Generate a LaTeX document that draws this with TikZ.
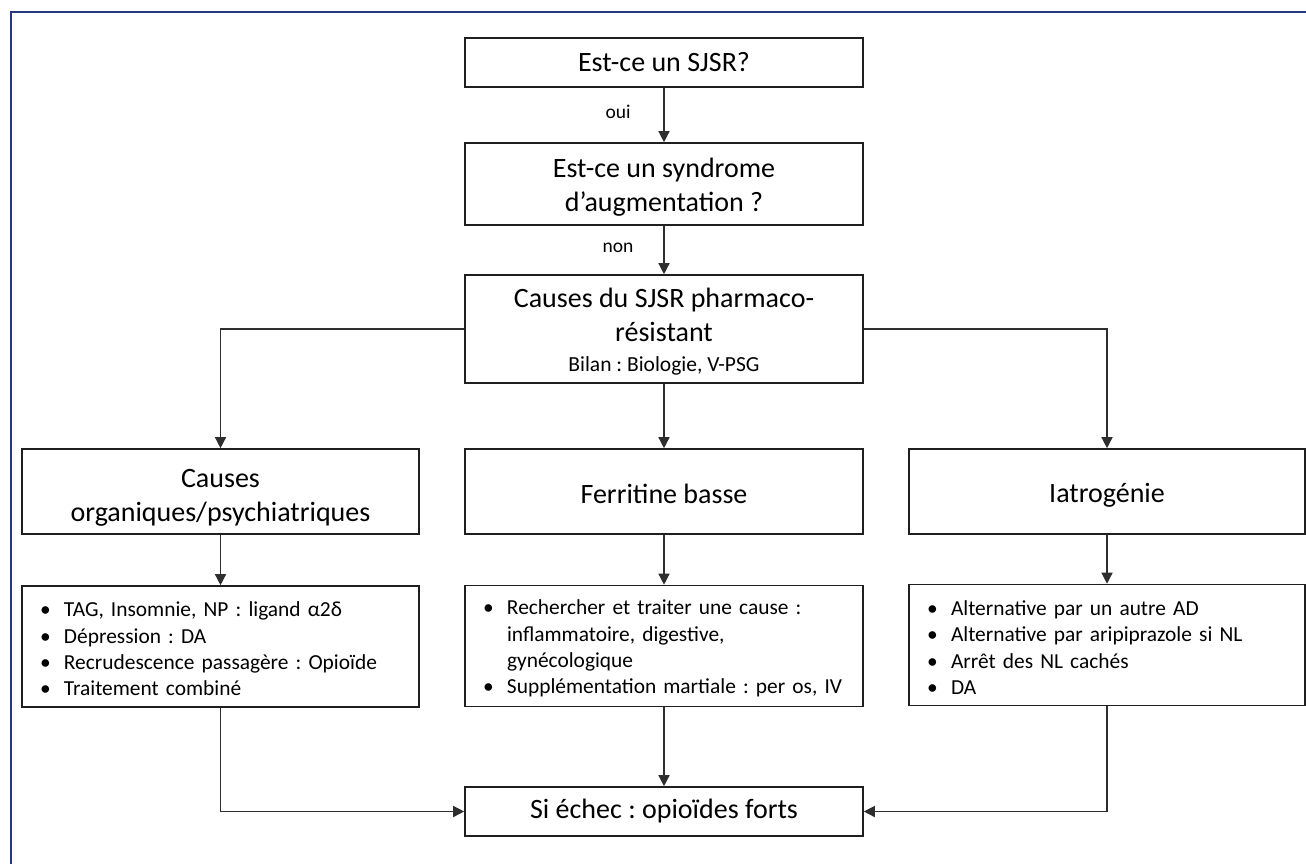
\documentclass[tikz,border=0pt]{standalone}
\usepackage{fontspec}
\setmainfont{Carlito}
\usetikzlibrary{arrows.meta}
\definecolor{framecol}{HTML}{23387F}
\definecolor{linecol}{HTML}{2E2E2E}
\begin{document}
\frenchspacing
\begin{tikzpicture}[x=1pt,y=-1pt,
  boxbase/.style={draw=black!88, line width=1.6pt, inner sep=0pt, text=black},
  titlebox/.style={boxbase, align=center, font=\frenchspacing\fontsize{28}{34}\selectfont,
     minimum width=398pt},
  listbox/.style={boxbase, align=left, font=\frenchspacing\fontsize{21.4}{26.3}\selectfont,
     text width=361pt, inner xsep=18pt, minimum height=121pt},
  arr/.style={draw=linecol, line width=1.4pt, -{Triangle[width=11pt,length=11pt]}},
  lbl/.style={font=\fontsize{19.5}{22}\selectfont, text=black}]
\useasboundingbox (0,0) rectangle (1306,863);
\fill[white] (0,0) rectangle (1306,863);
\draw[framecol, line width=2.6pt] (11,870) -- (11,12) -- (1320,12);

\newcommand{\bul}{\makebox[24pt][l]{\textbullet}}
\newcommand{\cont}{\hspace*{24pt}}
\newcommand{\tstrut}[1]{\rule{0pt}{#1}}

\node[titlebox, minimum height=49pt] (q1) at (664,62.5) {Est-ce un SJSR?};
\node[titlebox, minimum height=82pt] (q2) at (664,184) {\tstrut{26pt}Est-ce un syndrome\\d’augmentation ?};
\node[titlebox, minimum height=108pt] (causes) at (664,329)
  {\tstrut{24pt}Causes du SJSR pharmaco-\\résistant\\[-4pt]{\fontsize{21.5}{26}\selectfont Bilan : Biologie, V-PSG}};

\node[titlebox, minimum width=397pt, minimum height=85pt] (A) at (220.5,491.5) {\tstrut{30pt}Causes\\organiques/psychiatriques};
\node[titlebox, minimum height=85pt] (B) at (664,491.5) {\tstrut{24pt}Ferritine basse};
\node[titlebox, minimum width=396pt, minimum height=85pt] (C) at (1107,491.5) {\tstrut{26pt}Iatrogénie};

\node[listbox] (A2) at (220.5,646.5)
  {\tstrut{20pt}\bul TAG, Insomnie, NP : ligand α2δ\\
   \bul Dépression : DA\\
   \bul Recrudescence passagère : Opioïde\\
   \bul Traitement combiné};
\node[listbox, text width=362pt] (B2) at (664,646)
  {\tstrut{20pt}\bul Rechercher et traiter une cause :\\
   \cont inflammatoire, digestive,\\
   \cont gynécologique\\
   \bul Supplémentation martiale : per os, IV};
\node[listbox, text width=360pt] (C2) at (1107,645)
  {\tstrut{20pt}\bul Alternative par un autre AD\\
   \bul Alternative par aripiprazole si NL\\
   \bul Arrêt des NL cachés\\
   \bul DA};

\node[titlebox, minimum height=49pt] (final) at (664,811.5) {Si échec : opioïdes forts};

\draw[arr] (q1) -- node[lbl, xshift=-46pt, yshift=3pt] {oui} (q2);
\draw[arr] (q2) -- node[lbl, xshift=-46pt, yshift=2pt] {non} (causes);
\draw[arr] (causes.west) -| (A.north);
\draw[arr] (causes) -- (B);
\draw[arr] (causes.east) -| (C.north);
\draw[arr] (A) -- (A2);
\draw[arr] (B) -- (B2);
\draw[arr] (C) -- (C2);
\draw[arr] (A2.south) |- (final.west);
\draw[arr] (B2) -- (final);
\draw[arr] (C2.south) |- (final.east);
\end{tikzpicture}
\end{document}
